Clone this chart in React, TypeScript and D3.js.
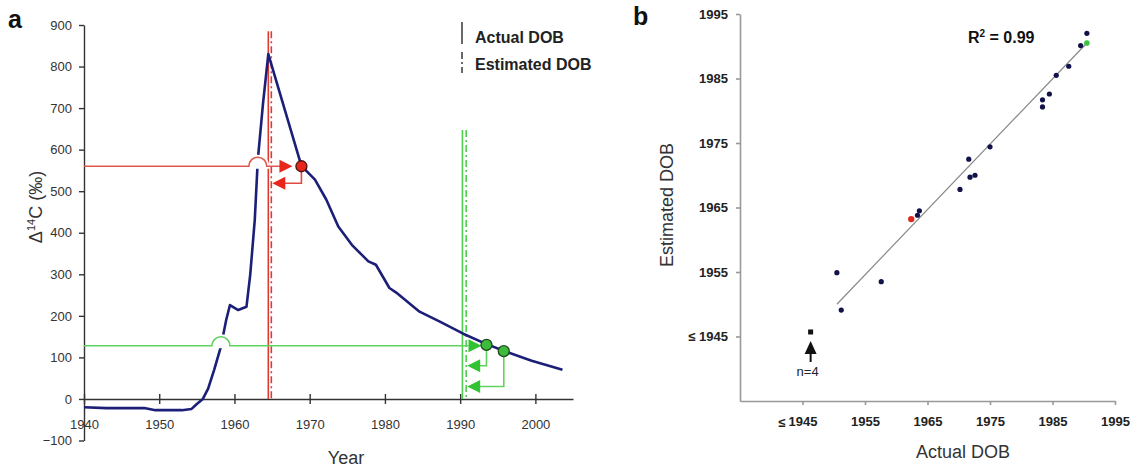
import React, { useEffect, useRef } from 'react';
import * as d3 from 'd3';

// ---- panel a: atmospheric 14C bomb curve ----
const curveYears = [1940, 1943, 1948, 1949.5, 1953, 1954.3, 1955, 1955.8, 1956.5, 1957.3, 1958.2, 1958.9, 1959.4, 1960.5, 1961.6, 1962.1, 1962.7, 1963.1, 1963.8, 1964.5, 1968.9, 1970.7, 1972.2, 1973.8, 1975.6, 1977.8, 1978.8, 1980.6, 1981.5, 1984.6, 1987.3, 1990.4, 1993.5, 1995.8, 1999.5, 2003.6];
const curveDelta = [-20, -22, -22, -27, -27, -24, -12, 0, 25, 70, 126, 190, 226, 214, 222, 300, 431, 575, 712, 830, 561, 528, 480, 415, 371, 331, 323, 267, 256, 210, 186, 157, 132, 116, 92, 70];
const yearTicks = [1940, 1950, 1960, 1970, 1980, 1990, 2000];
const deltaTicks = [-100, 0, 100, 200, 300, 400, 500, 600, 700, 800, 900];

// red example
const redLevel = 560;
const redCrossYear = 1963.1;
const redDot = [1968.9, 560];
const redReturn = 519;
const redActual = 1964.5;
const redEstimated = 1964.9;
const redTop = 885;

// green example
const greenLevel = 128;
const greenCrossYear = 1958.2;
const greenDots = [[1993.5, 130], [1995.8, 115]];
const greenReturns = [80, 30];
const greenActual = 1990.3;
const greenEstimated = 1990.8;
const greenTop = 647;

// ---- panel b: estimated vs actual DOB ----
const actualDOB = [1950.5, 1951.2, 1957.6, 1963.4, 1963.7, 1970.2, 1971.6, 1971.8, 1972.6, 1975.0, 1983.4, 1983.4, 1984.5, 1985.6, 1987.6, 1989.5, 1990.5];
const estimatedDOB = [1954.9, 1949.1, 1953.5, 1963.8, 1964.5, 1967.8, 1972.5, 1969.7, 1970.0, 1974.4, 1981.7, 1980.6, 1982.6, 1985.5, 1986.9, 1990.1, 1992.0];
const redPoint = [1962.4, 1963.2];
const greenPoint = [1990.5, 1990.5];
const censoredPoint = [1946.3, 1945.7];
const dobTicks = [1945, 1955, 1965, 1975, 1985, 1995];
const fitX = [1950.5, 1990.5];
const fitY = [1950.0, 1990.5];

const FONT = 'Liberation Sans, Arial, Helvetica, sans-serif';

function Chart() {
  const svgRef = useRef<SVGSVGElement>(null);

  useEffect(() => {
    const svg = d3.select(svgRef.current);
    svg.selectAll('*').remove();
    svg.style('font-family', FONT);

    // ===== panel a =====
    const x = d3.scaleLinear().domain([1940, 2005]).range([84, 573]);
    const y = d3.scaleLinear().domain([-100, 900]).range([440.5, 25]);
    const a = svg.append('g');

    const navy = '#1c1f78';
    const redLine = '#e0574c';
    const redHead = '#e8261c';
    const greenLine = '#5fd35f';
    const greenHead = '#33c233';

    // y axis
    const yAxis = a.append('g')
      .attr('transform', `translate(${x(1940)},0)`)
      .call(d3.axisLeft(y).tickValues(deltaTicks).tickSize(5).tickSizeOuter(0).tickPadding(7));
    yAxis.selectAll('path,line').attr('stroke', '#333').attr('stroke-width', 1.4);
    yAxis.selectAll('text').attr('font-size', 13).attr('fill', '#333').attr('font-family', FONT);

    // x axis at zero, ticks crossing
    const xAxis = a.append('g')
      .attr('transform', `translate(0,${y(0)})`)
      .call(d3.axisBottom(x).tickValues(yearTicks).tickSize(5).tickSizeOuter(0).tickFormat(d3.format('d')));
    xAxis.selectAll('path,line').attr('stroke', '#333').attr('stroke-width', 1.4);
    xAxis.selectAll('.tick line').attr('y1', -5);
    xAxis.selectAll('text').attr('y', 21).attr('font-size', 13).attr('fill', '#333').attr('font-family', FONT);

    // vertical DOB lines
    const vline = (yr: number, top: number, color: string, dashed: boolean) => {
      a.append('line')
        .attr('x1', x(yr)).attr('x2', x(yr))
        .attr('y1', y(top)).attr('y2', y(0))
        .attr('stroke', color).attr('stroke-width', 1.6)
        .attr('stroke-dasharray', dashed ? '7,3,2,3' : null);
    };
    vline(redActual, redTop, '#e03a30', false);
    vline(redEstimated, redTop, '#e03a30', true);
    vline(greenActual, greenTop, '#4fcf4f', false);
    vline(greenEstimated, greenTop, '#4fcf4f', true);

    // bomb curve
    const pts = curveYears.map((yr, i) => [yr, curveDelta[i]] as [number, number]);
    a.append('path')
      .datum(pts)
      .attr('fill', 'none')
      .attr('stroke', navy)
      .attr('stroke-width', 2.6)
      .attr('stroke-linejoin', 'round')
      .attr('d', d3.line<[number, number]>().x(d => x(d[0])).y(d => y(d[1])));

    const arrowRight = (tx: number, ty: number, color: string) => {
      a.append('path')
        .attr('d', `M${tx},${ty}L${tx - 13},${ty - 6.5}L${tx - 13},${ty + 6.5}Z`)
        .attr('fill', color);
    };
    const arrowLeft = (tx: number, ty: number, color: string) => {
      a.append('path')
        .attr('d', `M${tx},${ty}L${tx + 13},${ty - 6.5}L${tx + 13},${ty + 6.5}Z`)
        .attr('fill', color);
    };

    // horizontal reading line with a hop over the curve
    const hopLine = (level: number, crossYear: number, endX: number, color: string) => {
      const ly = y(level);
      const cx = x(crossYear);
      const r = 9;
      a.append('path')
        .attr('d', `M${cx - r},${ly}A${r},${r} 0 0 1 ${cx + r},${ly}Z`)
        .attr('fill', '#fff').attr('stroke', '#fff').attr('stroke-width', 5);
      a.append('path')
        .attr('d', `M${x(1940)},${ly}L${cx - r},${ly}A${r},${r} 0 0 1 ${cx + r},${ly}L${endX},${ly}`)
        .attr('fill', 'none').attr('stroke', color).attr('stroke-width', 1.6);
    };

    // red example
    const rdx = x(redDot[0]);
    const rdy = y(redDot[1]);
    hopLine(redLevel, redCrossYear, rdx - 20, redLine);
    arrowRight(rdx - 9, y(redLevel), redHead);
    a.append('path')
      .attr('d', `M${rdx},${rdy}L${rdx},${y(redReturn)}L${x(redEstimated) + 12},${y(redReturn)}`)
      .attr('fill', 'none').attr('stroke', '#e04a40').attr('stroke-width', 1.6);
    arrowLeft(x(redEstimated) + 1, y(redReturn), redHead);
    a.append('circle')
      .attr('cx', rdx).attr('cy', rdy).attr('r', 5.5)
      .attr('fill', '#e8261a').attr('stroke', '#4a1510').attr('stroke-width', 1.3);

    // green example
    const g1x = x(greenDots[0][0]);
    hopLine(greenLevel, greenCrossYear, g1x - 18, greenLine);
    arrowRight(g1x - 5, y(greenLevel), greenHead);
    greenDots.forEach((d, i) => {
      const gx = x(d[0]);
      const gy = y(d[1]);
      a.append('path')
        .attr('d', `M${gx},${gy}L${gx},${y(greenReturns[i])}L${x(greenEstimated) + 12},${y(greenReturns[i])}`)
        .attr('fill', 'none').attr('stroke', greenLine).attr('stroke-width', 1.6);
      arrowLeft(x(greenEstimated) + 1, y(greenReturns[i]), greenHead);
    });
    greenDots.forEach(d => {
      a.append('circle')
        .attr('cx', x(d[0])).attr('cy', y(d[1])).attr('r', 5.5)
        .attr('fill', '#3dbb3d').attr('stroke', '#1c4a1c').attr('stroke-width', 1.3);
    });

    // legend
    a.append('line').attr('x1', 462).attr('x2', 462).attr('y1', 22).attr('y2', 44)
      .attr('stroke', '#444').attr('stroke-width', 1.6);
    a.append('line').attr('x1', 462).attr('x2', 462).attr('y1', 52).attr('y2', 73)
      .attr('stroke', '#444').attr('stroke-width', 1.6).attr('stroke-dasharray', '7,3,2,3');
    a.append('text').attr('x', 475).attr('y', 43).attr('font-size', 16).attr('font-weight', 'bold')
      .attr('fill', '#222').text('Actual DOB');
    a.append('text').attr('x', 475).attr('y', 70).attr('font-size', 16).attr('font-weight', 'bold')
      .attr('fill', '#222').text('Estimated DOB');

    // titles
    a.append('text').attr('x', 8).attr('y', 28).attr('font-size', 25).attr('font-weight', 'bold')
      .attr('fill', '#111').text('a');
    a.append('text').attr('x', 346).attr('y', 464).attr('text-anchor', 'middle')
      .attr('font-size', 18).attr('fill', '#333').text('Year');
    const yl = a.append('text')
      .attr('transform', 'translate(42,207) rotate(-90)')
      .attr('text-anchor', 'middle').attr('font-size', 18).attr('fill', '#333');
    yl.append('tspan').text('Δ');
    yl.append('tspan').attr('font-size', 11).attr('dy', -7).text('14');
    yl.append('tspan').attr('dy', 7).text('C  (‰)');

    // ===== panel b =====
    const bx = d3.scaleLinear().domain([1935, 1995]).range([740, 1115]);
    const by = d3.scaleLinear().domain([1935, 1995]).range([401, 14]);
    const b = svg.append('g');
    const fmt = (d: d3.NumberValue) => (d === 1945 ? '≤ 1945' : String(d));

    const byAxis = b.append('g')
      .attr('transform', `translate(${bx(1935)},0)`)
      .call(d3.axisLeft(by).tickValues(dobTicks).tickSize(4).tickSizeOuter(0).tickPadding(8).tickFormat(fmt));
    byAxis.selectAll('path,line').attr('stroke', '#999').attr('stroke-width', 1.6);
    byAxis.selectAll('text').attr('font-size', 13).attr('font-weight', 'bold').attr('fill', '#222').attr('font-family', FONT);

    const bxAxis = b.append('g')
      .attr('transform', `translate(0,${by(1935)})`)
      .call(d3.axisBottom(bx).tickValues(dobTicks).tickSize(4).tickSizeOuter(0).tickFormat(d => String(d)));
    bxAxis.selectAll('path,line').attr('stroke', '#999').attr('stroke-width', 1.6);
    bxAxis.selectAll('text').attr('y', 16).attr('font-size', 13).attr('font-weight', 'bold').attr('fill', '#222').attr('font-family', FONT);
    b.append('text').attr('x', bx(1945) - 17).attr('y', by(1935) + 25.5).attr('text-anchor', 'end')
      .attr('font-size', 13).attr('font-weight', 'bold').attr('fill', '#222').text('≤');

    // regression line
    b.append('line')
      .attr('x1', bx(fitX[0])).attr('y1', by(fitY[0]))
      .attr('x2', bx(fitX[1])).attr('y2', by(fitY[1]))
      .attr('stroke', '#888').attr('stroke-width', 1.2);

    // points
    b.selectAll('.pt')
      .data(actualDOB.map((v, i) => [v, estimatedDOB[i]]))
      .enter().append('circle')
      .attr('class', 'pt')
      .attr('cx', d => bx(d[0])).attr('cy', d => by(d[1])).attr('r', 2.6)
      .attr('fill', '#12124a');
    b.append('circle').attr('cx', bx(redPoint[0])).attr('cy', by(redPoint[1])).attr('r', 3.2).attr('fill', '#e02a20');
    b.append('circle').attr('cx', bx(greenPoint[0])).attr('cy', by(greenPoint[1])).attr('r', 2.8).attr('fill', '#3cc23c');

    // censored point and arrow
    const cx = bx(censoredPoint[0]);
    const cy = by(censoredPoint[1]);
    b.append('rect').attr('x', cx - 2.5).attr('y', cy - 2.5).attr('width', 5).attr('height', 5).attr('fill', '#111');
    b.append('path').attr('d', `M${cx},${cy + 9}L${cx - 6},${cy + 22}L${cx + 6},${cy + 22}Z`).attr('fill', '#111');
    b.append('line').attr('x1', cx).attr('x2', cx).attr('y1', cy + 21).attr('y2', cy + 30)
      .attr('stroke', '#111').attr('stroke-width', 2);
    b.append('text').attr('x', cx - 3).attr('y', cy + 44).attr('text-anchor', 'middle')
      .attr('font-size', 13).attr('fill', '#222').text('n=4');

    // R squared
    const r2 = b.append('text').attr('x', 968).attr('y', 43).attr('font-size', 16).attr('font-weight', 'bold').attr('fill', '#111');
    r2.append('tspan').text('R');
    r2.append('tspan').attr('font-size', 10).attr('dy', -6).text('2');
    r2.append('tspan').attr('dy', 6).text(' = 0.99');

    // titles
    b.append('text').attr('x', 633).attr('y', 25).attr('font-size', 25).attr('font-weight', 'bold')
      .attr('fill', '#111').text('b');
    b.append('text').attr('x', 963).attr('y', 458).attr('text-anchor', 'middle')
      .attr('font-size', 18).attr('fill', '#333').text('Actual DOB');
    b.append('text')
      .attr('transform', 'translate(673,205) rotate(-90)')
      .attr('text-anchor', 'middle').attr('font-size', 18).attr('fill', '#333')
      .text('Estimated DOB');
  }, []);

  return (
    <svg ref={svgRef} width={1138} height={474}
      style={{ position: 'absolute', left: 0, top: 0, background: '#fff' }} />
  );
}

export default function App() {
  return <Chart />;
}
